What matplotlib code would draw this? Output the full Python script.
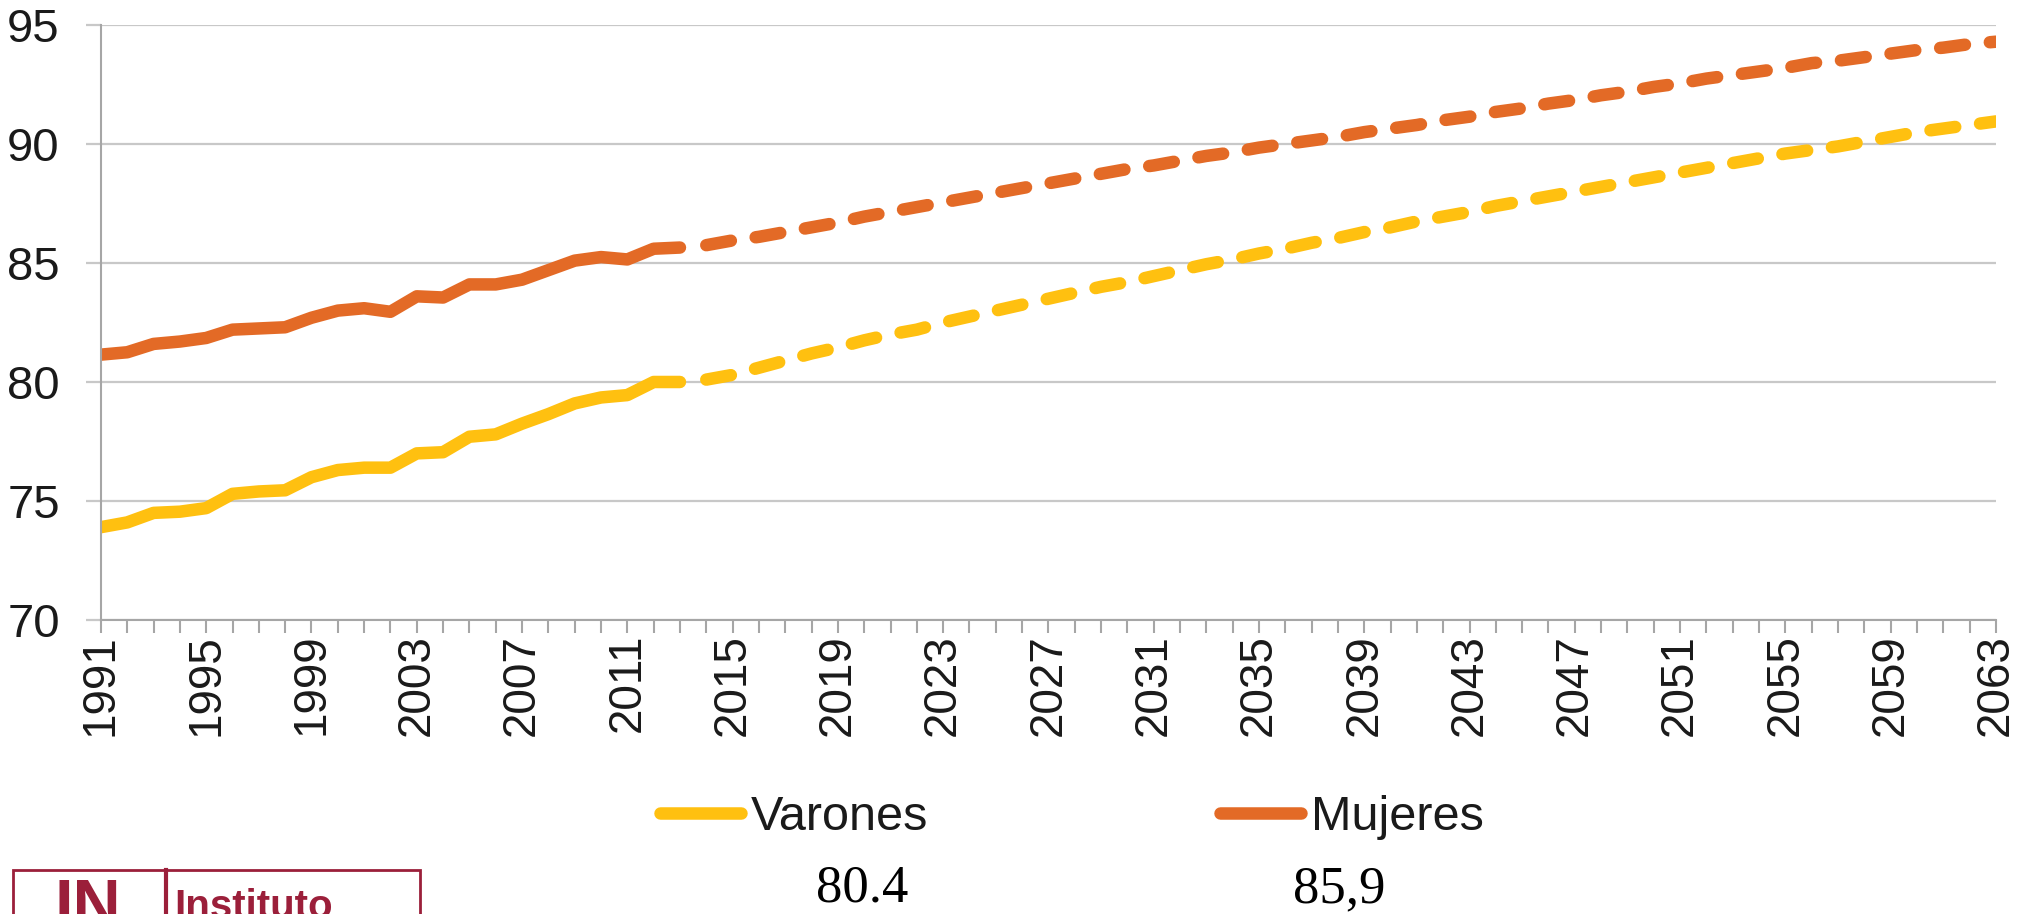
import matplotlib
matplotlib.use('Agg')
import matplotlib.pyplot as plt
from matplotlib.lines import Line2D
from matplotlib.patches import Rectangle
import numpy as np

plt.rcParams['font.family'] = ['Liberation Sans', 'DejaVu Sans']

# observed series 1991-2013, projection 2014-2063
years_hist = list(range(1991, 2014))
years_proj = list(range(2014, 2064))

varones_hist = [73.9, 74.1, 74.5, 74.55, 74.7, 75.3, 75.4, 75.45, 76.0, 76.3, 76.4, 76.4,
                77.0, 77.05, 77.7, 77.8, 78.25, 78.65, 79.1, 79.35, 79.45, 80.0, 80.0]
mujeres_hist = [81.15, 81.25, 81.6, 81.7, 81.85, 82.2, 82.25, 82.3, 82.7, 83.0, 83.1, 82.95,
                83.6, 83.55, 84.1, 84.1, 84.3, 84.7, 85.1, 85.25, 85.15, 85.6, 85.65]

varones_proj = [80.1, 80.3, 80.6, 80.9, 81.2, 81.45, 81.75, 82.0, 82.2, 82.5,
                82.75, 83.0, 83.25, 83.5, 83.75, 84.0, 84.2, 84.45, 84.7, 84.95,
                85.15, 85.4, 85.6, 85.85, 86.05, 86.3, 86.5, 86.75, 86.95, 87.15,
                87.4, 87.6, 87.8, 88.0, 88.2, 88.4, 88.6, 88.8, 89.0, 89.2,
                89.4, 89.6, 89.75, 89.9, 90.1, 90.3, 90.5, 90.65, 90.8, 90.95]
mujeres_proj = [85.75, 85.95, 86.1, 86.3, 86.5, 86.7, 86.95, 87.15, 87.35, 87.55,
                87.75, 87.95, 88.15, 88.35, 88.55, 88.75, 88.95, 89.1, 89.3, 89.5,
                89.65, 89.85, 90.0, 90.15, 90.3, 90.5, 90.65, 90.8, 91.0, 91.15,
                91.35, 91.5, 91.7, 91.85, 92.05, 92.2, 92.4, 92.55, 92.75, 92.9,
                93.05, 93.2, 93.4, 93.5, 93.65, 93.8, 93.95, 94.05, 94.2, 94.3]

labels = ['Varones', 'Mujeres']
notes = ['80.4', '85,9']

c_var = '#FFC010'
c_muj = '#E36A26'
grid_c = '#C8C8C8'
axis_c = '#A6A6A6'
txt_c = '#1a1a1a'
logo_c = '#9B1F3A'
lw = 9
dash = (2.0, 2.0)

fig = plt.figure(figsize=(20.35, 9.14), dpi=100)
ax = fig.add_axes([0.0496, 0.3217, 0.9312, 0.6509])

ax.plot(years_hist, varones_hist, color=c_var, lw=lw, solid_capstyle='round', solid_joinstyle='round')
ax.plot(years_hist, mujeres_hist, color=c_muj, lw=lw, solid_capstyle='round', solid_joinstyle='round')
ax.plot(years_proj, varones_proj, color=c_var, lw=lw, linestyle=(0, dash), dash_capstyle='round')
ax.plot(years_proj, mujeres_proj, color=c_muj, lw=lw, linestyle=(0, dash), dash_capstyle='round')

ax.set_xlim(1991, 2063)
ax.set_ylim(70, 95)
ax.set_yticks([70, 75, 80, 85, 90, 95])
all_years = list(range(1991, 2064))
ax.set_xticks(all_years)
ax.set_xticklabels([str(y) if (y - 1991) % 4 == 0 else '' for y in all_years], rotation=90)

ax.yaxis.grid(True, color=grid_c, lw=1.6)
ax.set_axisbelow(True)
for s in ['top', 'right']:
    ax.spines[s].set_visible(False)
for s in ['left', 'bottom']:
    ax.spines[s].set_color(axis_c)
    ax.spines[s].set_linewidth(1.5)

ax.tick_params(axis='y', length=10.6, width=1.6, color=grid_c, pad=19, labelsize=34, labelcolor=txt_c)
ax.tick_params(axis='x', length=9, width=1.5, color=axis_c, pad=1, labelsize=33, labelcolor=txt_c)

# legend with solid proxy handles
handles = [Line2D([], [], color=c_var, lw=lw, solid_capstyle='round'),
           Line2D([], [], color=c_muj, lw=lw, solid_capstyle='round')]
fig.legend(handles, labels, loc='center left', bbox_to_anchor=(660 / 2035, 1 - 818 / 914),
           ncol=2, frameon=False, fontsize=35, handlelength=1.67, handletextpad=0.2,
           columnspacing=6.0, borderpad=0, borderaxespad=0, labelcolor=txt_c)

fig.text(862 / 2035, 1 - 889 / 914, notes[0], ha='center', va='center',
         family='Liberation Serif', fontsize=38, color='black')
fig.text(1339 / 2035, 1 - 889 / 914, notes[1], ha='center', va='center',
         family='Liberation Serif', fontsize=38, color='black')

# logo box, cut by the bottom edge
fig.patches.append(Rectangle((13 / 2035, -0.05), (420 - 13) / 2035, (0.05 + (914 - 870) / 914),
                             transform=fig.transFigure, fill=False, edgecolor=logo_c, lw=2))
fig.lines.append(Line2D([166 / 2035, 166 / 2035], [-0.05, 1 - 870 / 914],
                        transform=fig.transFigure, color=logo_c, lw=3))
fig.text(88 / 2035, 1 - 926 / 914, 'IN', ha='center', va='baseline', fontsize=48,
         fontweight='bold', color=logo_c)
fig.text(174 / 2035, 1 - 918 / 914, 'Instituto', ha='left', va='baseline', fontsize=29,
         fontweight='bold', color=logo_c)

fig.savefig('out.png', dpi=100)
